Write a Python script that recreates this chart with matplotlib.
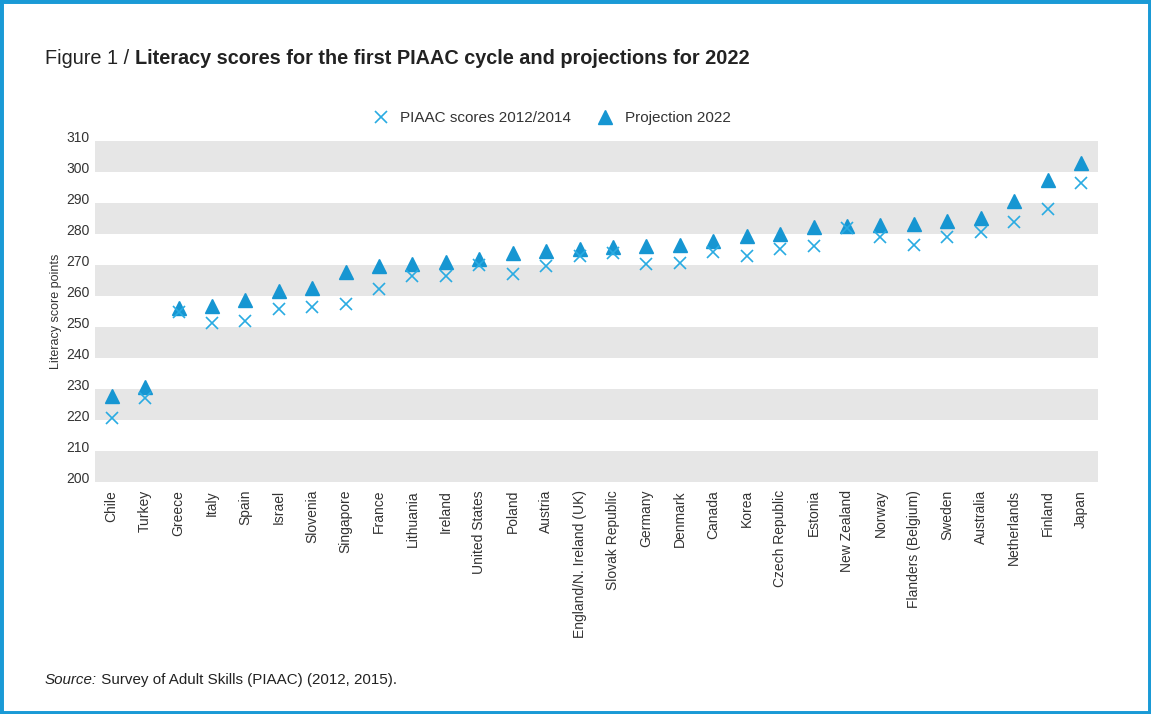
import matplotlib
matplotlib.use('Agg')
from matplotlib import pyplot as plt
from matplotlib.patches import Rectangle
from matplotlib.transforms import ScaledTranslation

plt.rcParams['font.family'] = ['Liberation Sans', 'DejaVu Sans']

countries = ['Chile', 'Turkey', 'Greece', 'Italy', 'Spain', 'Israel', 'Slovenia',
             'Singapore', 'France', 'Lithuania', 'Ireland', 'United States', 'Poland',
             'Austria', 'England/N. Ireland (UK)', 'Slovak Republic', 'Germany',
             'Denmark', 'Canada', 'Korea', 'Czech Republic', 'Estonia', 'New Zealand',
             'Norway', 'Flanders (Belgium)', 'Sweden', 'Australia', 'Netherlands',
             'Finland', 'Japan']

# PIAAC scores 2012/2014
piaac = [220.5, 226.9, 254.9, 251.1, 251.9, 255.8, 256.4, 257.3, 262.2, 266.5,
         266.5, 270.0, 267.1, 269.7, 273.0, 273.7, 270.2, 270.7, 274.1, 272.8,
         275.0, 276.1, 282.0, 278.9, 276.5, 278.9, 280.7, 283.8, 288.0, 296.5]

# Projection 2022
proj = [227.7, 230.5, 256.0, 256.8, 258.7, 261.7, 262.5, 267.8, 269.7, 270.2,
        271.0, 271.9, 273.9, 274.4, 275.0, 275.7, 276.1, 276.5, 277.7, 279.4,
        280.0, 282.1, 282.6, 282.9, 283.2, 284.3, 285.0, 290.7, 297.4, 303.0]

yticks = list(range(200, 311, 10))

blue_x = '#29abe2'
blue_tri = '#1696d2'
text_col = '#333333'

fig = plt.figure(figsize=(11.51, 7.14), dpi=100)
ax = fig.add_axes([0.0825, 0.3254, 0.8712, 0.4771])

# grey bands
for lo in range(200, 310, 20):
    ax.axhspan(lo, lo + 10, color='#e6e6e6', lw=0, zorder=0)

x = list(range(len(countries)))
ax.plot(x, piaac, linestyle='none', marker='x', markersize=8, mew=1.2,
        color=blue_x, label='PIAAC scores 2012/2014', zorder=3)
ax.plot(x, proj, linestyle='none', marker='^', markersize=10.5,
        color=blue_tri, label='Projection 2022', zorder=2)

ax.set_xlim(-0.5, len(countries) - 0.5)
ax.set_ylim(200, 310)
ax.set_yticks(yticks)
ax.set_xticks(x)
ax.set_xticklabels(countries, rotation=90, fontsize=10, color=text_col)
ax.tick_params(axis='both', length=0, labelsize=10, labelcolor=text_col)
ax.tick_params(axis='x', pad=6)
ax.tick_params(axis='y', pad=4)
for lab in ax.get_yticklabels():
    lab.set_transform(lab.get_transform() + ScaledTranslation(0, 4.5 / 100, fig.dpi_scale_trans))
for s in ax.spines.values():
    s.set_visible(False)

ax.set_ylabel('Literacy score points', fontsize=9, color=text_col, labelpad=3)

fig.legend(*ax.get_legend_handles_labels(), loc='center',
           bbox_to_anchor=(548 / 1151, 1 - 118 / 714), ncol=2, frameon=False,
           fontsize=11, handletextpad=0.3, columnspacing=1.2, labelcolor=text_col)

# title
t1 = fig.text(45 / 1151, 1 - 64 / 714, 'Figure 1 / ', fontsize=14.3, color='#222222')
ax.annotate('Literacy scores for the first PIAAC cycle and projections for 2022',
            xy=(1, 0), xycoords=t1, va='bottom', fontsize=14.3, fontweight='bold',
            color='#222222', annotation_clip=False)

# source
s1 = fig.text(45 / 1151, 1 - 684 / 714, 'Source:', fontsize=10.9, style='italic',
              color='#222222')
ax.annotate(' Survey of Adult Skills (PIAAC) (2012, 2015).', xy=(1, 0), xycoords=s1,
            va='bottom', fontsize=10.9, color='#222222', annotation_clip=False)

# frame
fig.patches.append(Rectangle((0, 0), 1, 1, transform=fig.transFigure, fill=False,
                             edgecolor='#1a9ad6', linewidth=5, zorder=10))

fig.savefig('out.png', dpi=100)
